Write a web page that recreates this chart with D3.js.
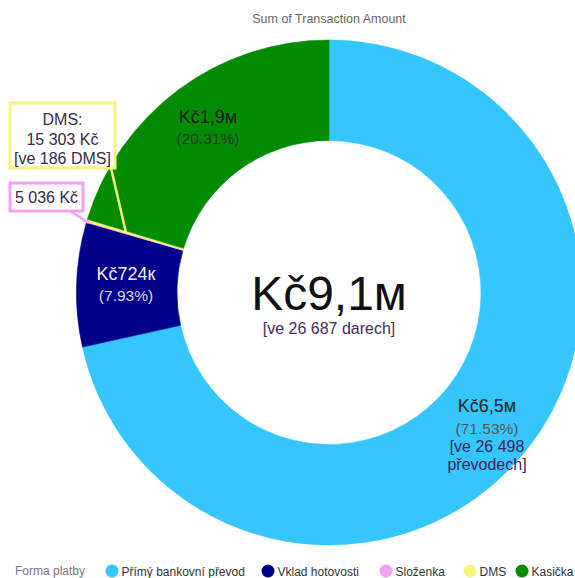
<!DOCTYPE html>
<html>

<head>
	<meta charset='utf-8'>
	<style>
		body {
			margin: 0;
			background: #fff;
		}

		svg {
			font-family: 'Liberation Sans', Arial, sans-serif;
			display: block;
		}
	</style>
</head>

<body>
	<svg></svg>
	<script src="https://d3js.org/d3.v7.min.js"></script>
	<script>
		// data
		var categories = ['Přímý bankovní převod', 'Vklad hotovosti', 'Složenka', 'DMS', 'Kasička'];
		var amounts = [6529500, 724000, 5036, 15303, 1854000];
		var counts = [26498, null, null, 186, null];
		var totalCount = 26687;
		var colors = ['#35c6fd', '#00008b', '#f59ef2', '#f7f57c', '#008b00'];
		var legendTitle = 'Forma platby';
		var title = 'Sum of Transaction Amount';

		var width = 575, height = 578;
		var cx = 329, cy = 292.5, outerR = 252.5, innerR = 152;

		var svg = d3.select('svg').attr('width', width).attr('height', height);

		var total = d3.sum(amounts);
		var spaced = d3.format(',');
		function nbsp(n) { return spaced(n).replace(/,/g, ' '); }
		function short(v) {
			if (v >= 1e6) return 'Kč' + (v / 1e6).toFixed(1).replace('.', ',') + 'м';
			return 'Kč' + Math.round(v / 1e3) + 'к';
		}
		function pct(v) { return '(' + (v / total * 100).toFixed(2) + '%)'; }

		var dataset = categories.map(function (c, i) {
			return { name: c, amount: amounts[i], count: counts[i], color: colors[i] };
		});

		var pie = d3.pie().sort(null).value(function (d) { return d.amount; });
		var arcs = pie(dataset);
		var arc = d3.arc().innerRadius(innerR).outerRadius(outerR);

		svg.append('text').attr('x', cx).attr('y', 23).attr('text-anchor', 'middle')
			.attr('font-size', 12.5).attr('fill', '#666').text(title);

		var g = svg.append('g').attr('transform', 'translate(' + cx + ',' + cy + ')');

		g.selectAll('path.slice')
			.data(arcs)
			.enter()
			.append('path')
			.attr('class', 'slice')
			.attr('d', arc)
			.attr('fill', function (d) { return d.data.color; })
			.attr('stroke', function (d) { return d.data.color; })
			.attr('stroke-width', 0.6);

		// labels inside the big slices
		function inside(x, lines) {
			var t = svg.append('text').attr('text-anchor', 'middle');
			lines.forEach(function (l) {
				t.append('tspan').attr('x', x).attr('y', l.y)
					.attr('font-size', l.size).attr('fill', l.fill).text(l.text);
			});
		}
		var a0 = arcs[0].data, a1 = arcs[1].data, a4 = arcs[4].data;
		inside(487, [
			{ y: 412, size: 18, fill: '#222', text: short(a0.amount) },
			{ y: 434, size: 15.5, fill: '#555', text: pct(a0.amount) },
			{ y: 452, size: 16, fill: '#3d1f55', text: '[ve ' + nbsp(a0.count) },
			{ y: 470, size: 16, fill: '#3d1f55', text: 'převodech]' }
		]);
		inside(126, [
			{ y: 280, size: 18, fill: '#f0f0f0', text: short(a1.amount) },
			{ y: 301, size: 15.5, fill: '#dcdcdc', text: pct(a1.amount) }
		]);
		inside(208, [
			{ y: 123, size: 18, fill: '#1a1a1a', text: short(a4.amount) },
			{ y: 144, size: 15.5, fill: '#333', text: pct(a4.amount) }
		]);

		// centre total
		svg.append('text').attr('x', cx).attr('y', 310).attr('text-anchor', 'middle')
			.attr('font-size', 48).attr('fill', '#111').text(short(total));
		svg.append('text').attr('x', cx).attr('y', 334).attr('text-anchor', 'middle')
			.attr('font-size', 16).attr('fill', '#4a2a5e').text('[ve ' + nbsp(totalCount) + ' darech]');

		// callouts for the thin slices
		function polar(d, r) {
			var a = (d.startAngle + d.endAngle) / 2;
			return [cx + r * Math.sin(a), cy - r * Math.cos(a)];
		}
		var callouts = [
			{ arc: arcs[3], box: [10, 103, 105, 65], from: [111, 168], r: 212, y0: 125,
				lines: ['DMS:', nbsp(arcs[3].data.amount) + ' Kč', '[ve ' + arcs[3].data.count + ' DMS]'] },
			{ arc: arcs[2], box: [10, 183, 73, 28], from: [70, 211], r: 250, y0: 203,
				lines: [nbsp(arcs[2].data.amount) + ' Kč'] }
		];
		callouts.forEach(function (c) {
			var col = c.arc.data.color;
			var end = polar(c.arc, c.r);
			svg.append('line').attr('x1', c.from[0]).attr('y1', c.from[1])
				.attr('x2', end[0]).attr('y2', end[1])
				.attr('stroke', col).attr('stroke-width', 2.5);
			svg.append('rect').attr('x', c.box[0]).attr('y', c.box[1])
				.attr('width', c.box[2]).attr('height', c.box[3])
				.attr('fill', '#fff').attr('stroke', col).attr('stroke-width', 3);
			var t = svg.append('text').attr('text-anchor', 'middle')
				.attr('font-size', 16).attr('fill', '#3a2a48');
			c.lines.forEach(function (l, k) {
				t.append('tspan').attr('x', c.box[0] + c.box[2] / 2)
					.attr('y', c.y0 + k * 19.5).text(l);
			});
		});

		// legend
		var legendX = [112, 268, 386, 470, 522];
		var leg = svg.append('g').attr('font-size', 12).attr('fill', '#333');
		leg.append('text').attr('x', 15).attr('y', 575).attr('fill', '#777').text(legendTitle);
		var items = leg.selectAll('g.item')
			.data(dataset)
			.enter()
			.append('g')
			.attr('class', 'item')
			.attr('transform', function (d, i) { return 'translate(' + legendX[i] + ',571)'; });
		items.append('circle').attr('r', 6.5).attr('fill', function (d) { return d.color; });
		items.append('text').attr('x', 9.5).attr('y', 4.5).text(function (d) { return d.name; });
	</script>
</body>

</html>
